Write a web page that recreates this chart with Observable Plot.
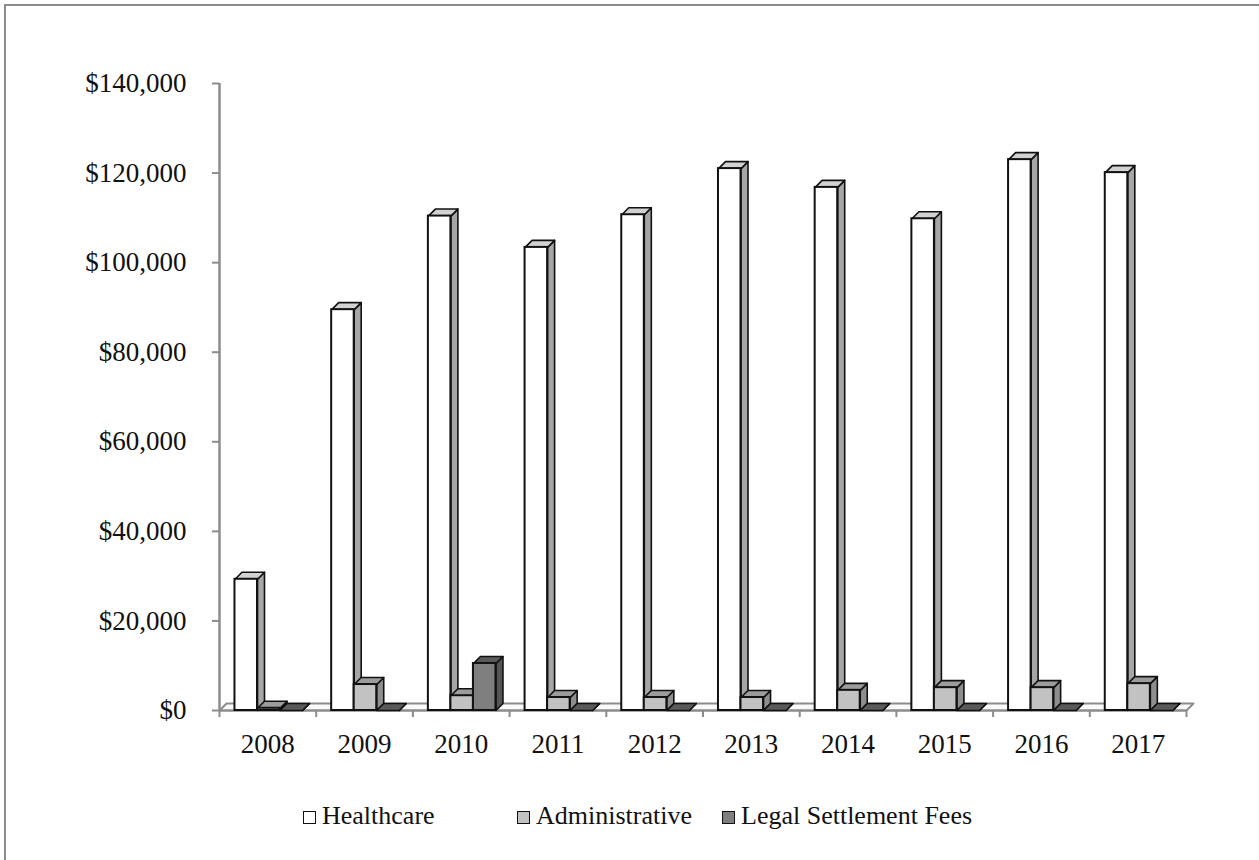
<!DOCTYPE html>
<html>
<head>
<meta charset="utf-8">
<script src="https://cdn.jsdelivr.net/npm/d3@7"></script>
<script src="https://cdn.jsdelivr.net/npm/@observablehq/plot@0.6"></script>
<style>
  html, body { margin: 0; padding: 0; background: #fff; }
  body { width: 1259px; height: 860px; overflow: hidden; position: relative; font-family: "Liberation Serif", "DejaVu Serif", serif; }
  #frame { position: absolute; left: 4px; top: 4px; width: 1280px; height: 880px; border: 2px solid #8c8c8c; box-sizing: border-box; }
  #chart { position: absolute; left: 0; top: 0; }
  #legend { position: absolute; left: 0; top: 0; width: 1259px; height: 860px; pointer-events: none; }
  .sw { position: absolute; width: 11px; height: 11px; border: 1.5px solid #111; }
  .lt { position: absolute; font-size: 26px; line-height: 26px; color: #111; white-space: nowrap; }
</style>
</head>
<body>
<div id="frame"></div>
<div id="chart"></div>
<div id="legend"></div>
<script>
// ---- data ----
const years = ["2008","2009","2010","2011","2012","2013","2014","2015","2016","2017"];
const seriesNames = ["Healthcare", "Administrative", "Legal Settlement Fees"];
const healthcare = [29300, 89500, 110400, 103400, 110700, 121000, 116800, 109800, 123000, 120100];
const administrative = [500, 5800, 3300, 2900, 2900, 2900, 4500, 5100, 5100, 6000];
const legal = [0, 0, 10500, 0, 0, 0, 0, 0, 0, 0];
const yTicks = [0, 20000, 40000, 60000, 80000, 100000, 120000, 140000];

// ---- styles ----
const frontFill = ["#ffffff", "#c2c2c2", "#7f7f7f"];
const sideFill  = ["#a6a6a6", "#8e8e8e", "#555555"];
const topFill   = ["#d2d2d2", "#9c9c9c", "#5a5a5a"];

const W = 1259, H = 780;
const mL = 219, mR = W - 1186, mT = 83, mB = H - 710;
const plotW = W - mL - mR, plotH = H - mT - mB;
const yMax = 140000;
const depthPx = 7;
const dX = depthPx / (plotW / years.length); // depth in x data units
const dY = depthPx * yMax / plotH;          // depth in y data units
const barOff = 0.16, barW = 0.233;

const allSeries = [healthcare, administrative, legal];

// build rows
const fronts = [], sides = [], tops = [];
allSeries.forEach((vals, s) => {
  vals.forEach((v, i) => {
    const x0 = i + barOff + s * barW, x1 = x0 + barW;
    fronts.push({s, x1: x0, x2: x1, y1: 0, y2: v});
    const sid = `${s}-${i}`;
    [[x1, 0], [x1 + dX, dY], [x1 + dX, v + dY], [x1, v], [x1, 0]].forEach(([x, y]) => sides.push({s, id: sid, x, y}));
    [[x0, v], [x1, v], [x1 + dX, v + dY], [x0 + dX, v + dY], [x0, v]].forEach(([x, y]) => tops.push({s, id: sid, x, y}));
  });
});
const floorPts = [[0, 0], [years.length, 0], [years.length + dX, dY], [dX, dY], [0, 0]].map(([x, y]) => ({x, y}));

const barMarks = [];
[0, 1, 2].forEach(s => {
  barMarks.push(Plot.line(sides.filter(d => d.s === s), {x: "x", y: "y", z: "id", fill: sideFill[s], stroke: "#111", strokeWidth: 1.6, strokeLinejoin: "round", curve: "linear"}));
  barMarks.push(Plot.line(tops.filter(d => d.s === s), {x: "x", y: "y", z: "id", fill: topFill[s], stroke: "#111", strokeWidth: 1.6, strokeLinejoin: "round", curve: "linear"}));
  barMarks.push(Plot.rect(fronts.filter(d => d.s === s), {x1: "x1", x2: "x2", y1: "y1", y2: "y2", fill: frontFill[s], stroke: "#111", strokeWidth: 2}));
});

const chart = Plot.plot({
  width: W, height: H,
  marginLeft: mL, marginRight: mR, marginTop: mT, marginBottom: mB,
  style: {fontFamily: '"Liberation Serif", "DejaVu Serif", serif', fontSize: "27px", background: "transparent", color: "#111", overflow: "visible"},
  x: {type: "linear", domain: [0, years.length], axis: null},
  y: {domain: [0, yMax], axis: null},
  marks: [
    // floor
    Plot.line(floorPts, {x: "x", y: "y", fill: "#fafafa", stroke: "#8c8c8c", strokeWidth: 2, curve: "linear"}),
    // y axis line
    Plot.ruleX([0], {y1: 0, y2: yMax, stroke: "#8c8c8c", strokeWidth: 2.5}),
    // y axis ticks + labels
    Plot.axisY({ticks: yTicks, tickSize: 7, tickPadding: 26, tickFormat: d => "$" + d3.format(",")(d), stroke: "#8c8c8c", strokeWidth: 2, fontSize: 27, fill: "#111", label: null}),
    // x axis ticks
    Plot.axisX({ticks: d3.range(0, years.length + 1), tickSize: 7, tickFormat: () => "", stroke: "#8c8c8c", strokeWidth: 2, label: null}),
    Plot.ruleY([0], {x1: 0, x2: years.length, stroke: "#8c8c8c", strokeWidth: 2}),
    ...barMarks,
    // x labels
    Plot.text(years, {x: (d, i) => i + 0.5, y: 0, dy: 34, text: d => d, fontSize: 27, fill: "#111"})
  ]
});
document.getElementById("chart").appendChild(chart);

// legend
const legendPos = [[303, 322], [517, 536], [722, 741]];
const lg = document.getElementById("legend");
seriesNames.forEach((name, s) => {
  const sw = document.createElement("div");
  sw.className = "sw";
  sw.style.left = legendPos[s][0] + "px";
  sw.style.top = "811px";
  sw.style.background = frontFill[s];
  lg.appendChild(sw);
  const t = document.createElement("div");
  t.className = "lt";
  t.style.left = legendPos[s][1] + "px";
  t.style.top = "803px";
  t.textContent = name;
  lg.appendChild(t);
});
</script>
</body>
</html>
